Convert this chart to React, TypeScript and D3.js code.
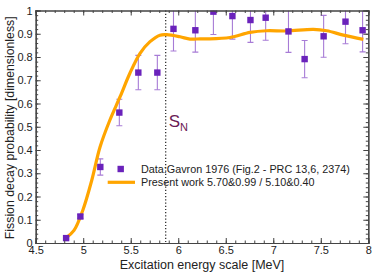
import { useEffect, useRef } from "react";
import * as d3 from "d3";

const W = 373;
const H = 273;
const MARGIN = { top: 10.5, right: 4.7, bottom: 30, left: 35.7 };

// Gavron 1976 data points
const dataE = [4.82, 4.97, 5.18, 5.38, 5.58, 5.78, 5.95, 6.18, 6.37, 6.57, 6.76, 6.92, 7.16, 7.33, 7.53, 7.76, 7.94];
const dataP = [0.021, 0.114, 0.327, 0.561, 0.733, 0.733, 0.921, 0.915, 0.995, 0.976, 0.959, 0.969, 0.91, 0.791, 0.889, 0.952, 0.915];
const dataErr = [0.004, 0.008, 0.035, 0.057, 0.074, 0.074, 0.095, 0.094, 0.098, 0.099, 0.096, 0.097, 0.09, 0.08, 0.09, 0.095, 0.093];

// present work curve
const curveE = [4.816, 4.903, 4.995, 5.09, 5.177, 5.28, 5.387, 5.49, 5.598, 5.703, 5.808, 5.879, 6.019, 6.124, 6.23, 6.3, 6.545, 6.756, 6.93, 7.142, 7.422, 7.563, 7.738, 7.948];
const curveP = [0.021, 0.054, 0.14, 0.27, 0.413, 0.528, 0.628, 0.729, 0.816, 0.866, 0.894, 0.896, 0.887, 0.877, 0.878, 0.878, 0.884, 0.906, 0.913, 0.912, 0.919, 0.913, 0.894, 0.876];

const xTicks = [4.5, 5, 5.5, 6, 6.5, 7, 7.5, 8];
const yTicks = [0, 0.1, 0.2, 0.3, 0.4, 0.5, 0.6, 0.7, 0.8, 0.9, 1];
const SN = 5.868;

const PURPLE = "#6a22bb";
const ERR = "#a77bd6";
const ORANGE = "#ffa500";
const FONT = "Liberation Sans, Arial, sans-serif";

export default function App() {
  const axesRef = useRef<SVGGElement>(null);
  const bw = W - MARGIN.left - MARGIN.right;
  const bh = H - MARGIN.top - MARGIN.bottom;

  const x = d3.scaleLinear().domain([4.5, 8]).range([0, bw]);
  const y = d3.scaleLinear().domain([0, 1]).range([bh, 0]);

  useEffect(() => {
    const g = d3.select(axesRef.current);
    g.selectAll("*").remove();
    const xMinor = d3.range(45, 81).map((d) => d / 10);
    const yMinor = d3.range(0, 51).map((d) => d / 50);
    const fmt = (d: d3.NumberValue) => String(+(+d).toFixed(2));

    const style = (sel: d3.Selection<SVGGElement, unknown, null, undefined>) => {
      sel.select(".domain").attr("stroke", "#444");
      sel.selectAll(".tick line").attr("stroke", "#444");
      sel.selectAll("text").attr("font-family", FONT).attr("font-size", 11).attr("fill", "#222");
    };

    // bottom
    g.append("g").attr("transform", `translate(0,${bh})`)
      .call(d3.axisBottom(x).tickValues(xMinor).tickSize(-2.5).tickFormat(() => ""))
      .call(style);
    g.append("g").attr("transform", `translate(0,${bh})`)
      .call(d3.axisBottom(x).tickValues(xTicks).tickSize(-5).tickPadding(3.5).tickFormat(fmt))
      .call(style);
    // top
    g.append("g")
      .call(d3.axisTop(x).tickValues(xMinor).tickSize(-2.5).tickFormat(() => ""))
      .call(style);
    g.append("g")
      .call(d3.axisTop(x).tickValues(xTicks).tickSize(-5).tickFormat(() => ""))
      .call(style);
    // left
    g.append("g")
      .call(d3.axisLeft(y).tickValues(yMinor).tickSize(-2.5).tickFormat(() => ""))
      .call(style);
    g.append("g")
      .call(d3.axisLeft(y).tickValues(yTicks).tickSize(-5).tickPadding(3).tickFormat(fmt))
      .call(style);
    // right
    g.append("g").attr("transform", `translate(${bw},0)`)
      .call(d3.axisRight(y).tickValues(yMinor).tickSize(-2.5).tickFormat(() => ""))
      .call(style);
    g.append("g").attr("transform", `translate(${bw},0)`)
      .call(d3.axisRight(y).tickValues(yTicks).tickSize(-5).tickFormat(() => ""))
      .call(style);
    g.selectAll(".domain").attr("stroke-width", 1.2);
  }, []);

  const line = d3
    .line<number>()
    .x((_, i) => x(curveE[i]))
    .y((d) => y(d))
    .curve(d3.curveCatmullRom);

  const clip = (v: number) => Math.max(0, Math.min(1, v));

  return (
    <svg width={W} height={H} style={{ position: "absolute", left: 0, top: 0, background: "#fff" }}>
      <defs>
        <clipPath id="plot-clip">
          <rect x={0} y={0} width={bw} height={bh} />
        </clipPath>
      </defs>
      <g transform={`translate(${MARGIN.left},${MARGIN.top})`}>
        <line x1={x(SN)} x2={x(SN)} y1={0} y2={bh} stroke="#222" strokeWidth={1.2} strokeDasharray="1.2,2" />
        <g clipPath="url(#plot-clip)">
          {dataE.map((e, i) => {
            const top = clip(dataP[i] + dataErr[i]);
            const bot = clip(dataP[i] - dataErr[i]);
            return (
              <g key={"e" + i} stroke={ERR} strokeWidth={1.1}>
                <line x1={x(e)} x2={x(e)} y1={y(top)} y2={y(bot)} />
                {dataP[i] + dataErr[i] < 1 && <line x1={x(e) - 3} x2={x(e) + 3} y1={y(top)} y2={y(top)} />}
                <line x1={x(e) - 3} x2={x(e) + 3} y1={y(bot)} y2={y(bot)} />
              </g>
            );
          })}
          <path d={line(curveP) ?? ""} fill="none" stroke={ORANGE} strokeWidth={3.2} strokeLinejoin="round" />
          {dataE.map((e, i) => (
            <rect key={"p" + i} x={x(e) - 3.2} y={y(dataP[i]) - 3.2} width={6.4} height={6.4} fill={PURPLE} />
          ))}
        </g>
        <g ref={axesRef} />
        <text x={x(SN) + 3} y={y(0.5)} fontFamily={FONT} fontSize={17} fill="#6b1a55">
          S<tspan fontSize={11} dy={4}>N</tspan>
        </text>
        {/* legend */}
        <rect x={120.7 - MARGIN.left - 3.2} y={169 - MARGIN.top - 3.2} width={6.4} height={6.4} fill={PURPLE} />
        <text x={141 - MARGIN.left} y={169 - MARGIN.top} dy="0.35em" fontFamily={FONT} fontSize={10.8} fill="#222">
          Data:Gavron 1976 (Fig.2 - PRC 13,6, 2374)
        </text>
        <line x1={107.7 - MARGIN.left} x2={135 - MARGIN.left} y1={182.3 - MARGIN.top} y2={182.3 - MARGIN.top} stroke={ORANGE} strokeWidth={3.2} />
        <text x={141 - MARGIN.left} y={182 - MARGIN.top} dy="0.35em" fontFamily={FONT} fontSize={10.8} fill="#222">
          Present work 5.70&amp;0.99 / 5.10&amp;0.40
        </text>
      </g>
      <text x={MARGIN.left + bw / 2} y={268.5} textAnchor="middle" fontFamily={FONT} fontSize={12.5} fill="#222">
        Excitation energy scale [MeV]
      </text>
      <text transform={`translate(14,${MARGIN.top + bh / 2 + 1}) rotate(-90)`} textAnchor="middle" fontFamily={FONT} fontSize={12.3} fill="#222">
        Fission decay probability [dimensionless]
      </text>
    </svg>
  );
}
